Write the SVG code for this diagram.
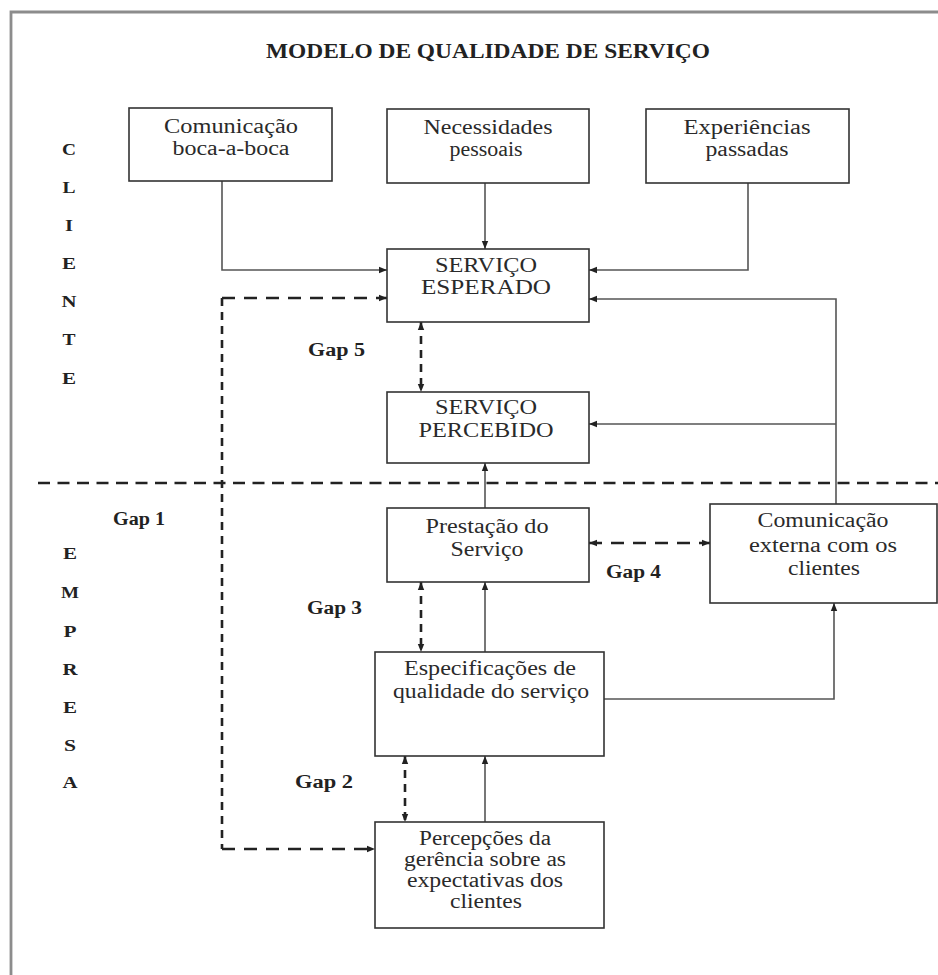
<svg xmlns="http://www.w3.org/2000/svg" width="938" height="975" viewBox="0 0 938 975">
  <style>
    .box { fill: #ffffff; stroke: #333333; stroke-width: 1.6; }
    .lbl { font-family: "Liberation Serif", "Times New Roman", serif; font-size: 20px; fill: #2a2a2a; text-anchor: middle; }
    .side { font-family: "Liberation Serif", "Times New Roman", serif; font-size: 17px; font-weight: bold; fill: #222; text-anchor: middle; }
    .gap { font-family: "Liberation Serif", "Times New Roman", serif; font-size: 18px; font-weight: bold; fill: #222; }
    .title { font-family: "Liberation Serif", "Times New Roman", serif; font-size: 21px; font-weight: bold; fill: #222; text-anchor: middle; }
    .solid { fill: none; stroke: #555555; stroke-width: 1.6; }
    .dashH { fill: none; stroke: #222222; stroke-width: 2.6; stroke-dasharray: 13 9; }
    .dashV { fill: none; stroke: #222222; stroke-width: 2.6; stroke-dasharray: 8 6; }
    .divider { fill: none; stroke: #222222; stroke-width: 2.6; stroke-dasharray: 12 7.5; }
  </style>
  <defs>
    <marker id="ah" viewBox="0 0 10 10" refX="10" refY="5" markerWidth="9" markerHeight="8" markerUnits="userSpaceOnUse" orient="auto-start-reverse">
      <path d="M0,1 L10,5 L0,9 z" fill="#222"/>
    </marker>
  </defs>

  <rect x="0" y="0" width="938" height="975" fill="#ffffff"/>
  <!-- outer frame -->
  <path d="M11,975 V12 H938" fill="none" stroke="#8c8c8c" stroke-width="2.8"/>

  <text class="title" x="488" y="58" textLength="444" lengthAdjust="spacingAndGlyphs">MODELO DE QUALIDADE DE SERVIÇO</text>

  <!-- side captions -->
  <g id="cliente">
    <text class="side" x="69" y="155" textLength="14" lengthAdjust="spacingAndGlyphs">C</text>
    <text class="side" x="69" y="193" textLength="13" lengthAdjust="spacingAndGlyphs">L</text>
    <text class="side" x="69" y="231" textLength="8" lengthAdjust="spacingAndGlyphs">I</text>
    <text class="side" x="69" y="269" textLength="14" lengthAdjust="spacingAndGlyphs">E</text>
    <text class="side" x="69" y="307" textLength="15" lengthAdjust="spacingAndGlyphs">N</text>
    <text class="side" x="69" y="345" textLength="13" lengthAdjust="spacingAndGlyphs">T</text>
    <text class="side" x="69" y="384" textLength="14" lengthAdjust="spacingAndGlyphs">E</text>
  </g>
  <g id="empresa">
    <text class="side" x="70" y="559" textLength="14" lengthAdjust="spacingAndGlyphs">E</text>
    <text class="side" x="70" y="598" textLength="18" lengthAdjust="spacingAndGlyphs">M</text>
    <text class="side" x="70" y="637" textLength="13" lengthAdjust="spacingAndGlyphs">P</text>
    <text class="side" x="70" y="675" textLength="15" lengthAdjust="spacingAndGlyphs">R</text>
    <text class="side" x="70" y="713" textLength="14" lengthAdjust="spacingAndGlyphs">E</text>
    <text class="side" x="70" y="751" textLength="12" lengthAdjust="spacingAndGlyphs">S</text>
    <text class="side" x="70" y="788" textLength="15" lengthAdjust="spacingAndGlyphs">A</text>
  </g>

  <!-- connectors -->
  <g id="connectors">
    <path class="divider" d="M38,483 H938"/>
    <path class="solid" d="M222,181 V270 H387" marker-end="url(#ah)"/>
    <path class="solid" d="M485,183 V249" marker-end="url(#ah)"/>
    <path class="solid" d="M748,183 V270 H589" marker-end="url(#ah)"/>
    <path class="solid" d="M836,504 V299 H589" marker-end="url(#ah)"/>
    <path class="solid" d="M836,424 H589" marker-end="url(#ah)"/>
    <path class="solid" d="M485,508 V463" marker-end="url(#ah)"/>
    <path class="solid" d="M485,652 V582" marker-end="url(#ah)"/>
    <path class="solid" d="M604,699 H834 V603" marker-end="url(#ah)"/>
    <path class="solid" d="M485,822 V756" marker-end="url(#ah)"/>

    <!-- gap 1 -->
    <path class="dashH" d="M222,298 H387" marker-end="url(#ah)"/>
    <path class="dashV" d="M222,298 V849"/>
    <path class="dashH" d="M222,849 H375" marker-end="url(#ah)"/>
    <!-- gaps 5, 3, 2 -->
    <path class="dashV" d="M421,322 V392" marker-start="url(#ah)" marker-end="url(#ah)"/>
    <path class="dashV" d="M421,582 V652" marker-start="url(#ah)" marker-end="url(#ah)"/>
    <path class="dashV" d="M405,756 V822" marker-start="url(#ah)" marker-end="url(#ah)"/>
    <!-- gap 4 -->
    <path class="dashH" d="M589,543 H710" marker-start="url(#ah)" marker-end="url(#ah)"/>
  </g>

  <!-- gap labels -->
  <text class="gap" x="113" y="525" textLength="52" lengthAdjust="spacingAndGlyphs">Gap 1</text>
  <text class="gap" x="308" y="356" textLength="57" lengthAdjust="spacingAndGlyphs">Gap 5</text>
  <text class="gap" x="606" y="578" textLength="55" lengthAdjust="spacingAndGlyphs">Gap 4</text>
  <text class="gap" x="307" y="614" textLength="55" lengthAdjust="spacingAndGlyphs">Gap 3</text>
  <text class="gap" x="295" y="788" textLength="58" lengthAdjust="spacingAndGlyphs">Gap 2</text>

  <!-- nodes -->
  <g id="boca-a-boca">
    <rect class="box" x="129" y="108" width="203" height="73"/>
    <text class="lbl" x="231" y="133" textLength="134" lengthAdjust="spacingAndGlyphs">Comunicação</text>
    <text class="lbl" x="231" y="155" textLength="117" lengthAdjust="spacingAndGlyphs">boca-a-boca</text>
  </g>
  <g id="necessidades">
    <rect class="box" x="387" y="109" width="202" height="74"/>
    <text class="lbl" x="488" y="134" textLength="129" lengthAdjust="spacingAndGlyphs">Necessidades</text>
    <text class="lbl" x="486" y="156" textLength="73" lengthAdjust="spacingAndGlyphs">pessoais</text>
  </g>
  <g id="experiencias">
    <rect class="box" x="646" y="109" width="203" height="74"/>
    <text class="lbl" x="747" y="134" textLength="127" lengthAdjust="spacingAndGlyphs">Experiências</text>
    <text class="lbl" x="747" y="156" textLength="83" lengthAdjust="spacingAndGlyphs">passadas</text>
  </g>
  <g id="servico-esperado">
    <rect class="box" x="387" y="249" width="202" height="73"/>
    <text class="lbl" x="486" y="272" textLength="102" lengthAdjust="spacingAndGlyphs">SERVIÇO</text>
    <text class="lbl" x="486" y="294" textLength="130" lengthAdjust="spacingAndGlyphs">ESPERADO</text>
  </g>
  <g id="servico-percebido">
    <rect class="box" x="387" y="392" width="202" height="71"/>
    <text class="lbl" x="486" y="414" textLength="102" lengthAdjust="spacingAndGlyphs">SERVIÇO</text>
    <text class="lbl" x="486" y="437" textLength="135" lengthAdjust="spacingAndGlyphs">PERCEBIDO</text>
  </g>
  <g id="prestacao">
    <rect class="box" x="387" y="508" width="202" height="74"/>
    <text class="lbl" x="487" y="533" textLength="123" lengthAdjust="spacingAndGlyphs">Prestação do</text>
    <text class="lbl" x="487" y="556" textLength="73" lengthAdjust="spacingAndGlyphs">Serviço</text>
  </g>
  <g id="comunicacao-externa">
    <rect class="box" x="710" y="504" width="227" height="99"/>
    <text class="lbl" x="823" y="527" textLength="131" lengthAdjust="spacingAndGlyphs">Comunicação</text>
    <text class="lbl" x="823" y="552" textLength="148" lengthAdjust="spacingAndGlyphs">externa com os</text>
    <text class="lbl" x="824" y="575" textLength="72" lengthAdjust="spacingAndGlyphs">clientes</text>
  </g>
  <g id="especificacoes">
    <rect class="box" x="375" y="652" width="229" height="104"/>
    <text class="lbl" x="490" y="675" textLength="172" lengthAdjust="spacingAndGlyphs">Especificações de</text>
    <text class="lbl" x="491" y="698" textLength="196" lengthAdjust="spacingAndGlyphs">qualidade do serviço</text>
  </g>
  <g id="percepcoes">
    <rect class="box" x="375" y="822" width="229" height="106"/>
    <text class="lbl" x="485" y="845" textLength="132" lengthAdjust="spacingAndGlyphs">Percepções da</text>
    <text class="lbl" x="485" y="866" textLength="162" lengthAdjust="spacingAndGlyphs">gerência sobre as</text>
    <text class="lbl" x="485" y="887" textLength="156" lengthAdjust="spacingAndGlyphs">expectativas dos</text>
    <text class="lbl" x="486" y="908" textLength="72" lengthAdjust="spacingAndGlyphs">clientes</text>
  </g>
</svg>
